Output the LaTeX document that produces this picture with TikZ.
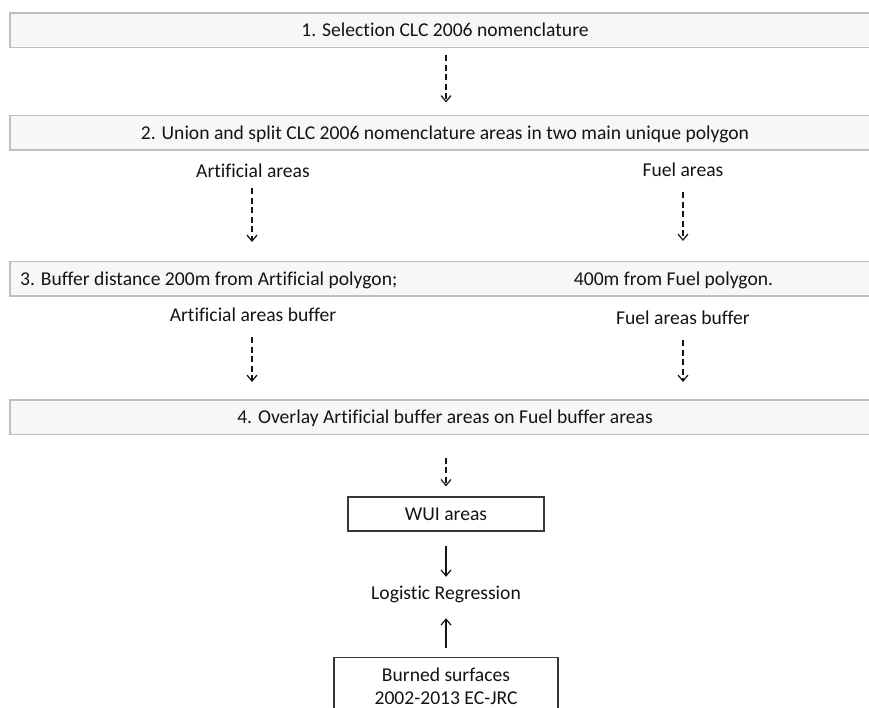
\documentclass[tikz,border=0pt]{standalone}
\usepackage{fontspec}
\setmainfont[RawFeature=-liga]{Carlito}
\usetikzlibrary{arrows.meta}
\definecolor{barfill}{HTML}{F7F7F7}
\definecolor{barline}{HTML}{BFBFBF}
\definecolor{ink}{HTML}{141414}
\tikzset{
  bar/.style={draw=barline, line width=1.5pt, fill=barfill, minimum width=870pt, minimum height=34.5pt, inner sep=0pt, text height=12.6pt, text depth=0pt, font=\fontsize{19.6}{23}\selectfont, text=ink},
  lbl/.style={inner sep=0pt, text height=13pt, text depth=4pt, font=\fontsize{19.6}{23}\selectfont, text=ink},
  box/.style={draw=ink!85, line width=1.2pt, fill=white, inner sep=0pt, font=\fontsize{19.6}{23}\selectfont, text=ink},
  dasharrow/.style={draw=ink, line width=1.2pt, dash pattern=on 6pt off 3.5pt, -{Straight Barb[length=6pt,width=10pt]}},
  solidarrow/.style={draw=ink, line width=1.2pt, -{Straight Barb[length=6pt,width=10pt]}}
}
\begin{document}
\begin{tikzpicture}[x=1pt,y=-1pt]
\useasboundingbox (0,0) rectangle (869,708);
\clip (0,0) rectangle (869,708);
\fill[white] (0,0) rectangle (869,708);
% bars
\node[bar] (b1) at (445,30.5) {1. Selection CLC 2006 nomenclature};
\node[bar] (b2) at (445,133) {2. Union and split CLC 2006 nomenclature areas in two main unique polygon};
\node[bar] (b3) at (445,279) {};
\node[lbl, anchor=base west] (b3l) at (20,285.5) {3. Buffer distance 200m from Artificial polygon;};
\node[lbl, anchor=base] (b3r) at (673.5,285.5) {400m from Fuel polygon.};
\node[bar] (b4) at (445,417) {4. Overlay Artificial buffer areas on Fuel buffer areas};
% labels
\node[lbl, anchor=base] (art) at (253,178) {Artificial areas};
\node[lbl, anchor=base] (fuel) at (683,177) {Fuel areas};
\node[lbl, anchor=base] (artb) at (253,321) {Artificial areas buffer};
\node[lbl, anchor=base] (fuelb) at (683,324) {Fuel areas buffer};
% bottom
\node[box, minimum width=196pt, minimum height=34pt, text height=12.6pt, text depth=0pt] (wui) at (446,514) {WUI areas};
\node[lbl, anchor=base] (lr) at (446,599) {Logistic Regression};
\node[box, anchor=north, minimum width=224pt, align=center, inner ysep=10pt] (burn) at (446,657) {Burned surfaces\\2002-2013 EC-JRC};
% connectors
\draw[dasharrow, shorten <=7pt, shorten >=12.5pt] (b1.south -| 446,0) -- (b2.north -| 446,0);
\draw[dasharrow, shorten <=6pt, shorten >=19pt] (art.south -| 252,0) -- (b3.north -| 252,0);
\draw[dasharrow, shorten <=11pt, shorten >=20pt] (fuel.south -| 683,0) -- (b3.north -| 683,0);
\draw[dasharrow, shorten <=12pt, shorten >=17pt] (artb.south -| 252,0) -- (b4.north -| 252,0);
\draw[dasharrow, shorten <=12pt, shorten >=17pt] (fuelb.south -| 683,0) -- (b4.north -| 683,0);
\draw[dasharrow, shorten <=22.5pt, shorten >=10pt] (b4.south -| wui.north) -- (wui.north);
\draw[solidarrow, shorten <=14pt, shorten >=9pt] (wui.south) -- (lr.north);
\draw[solidarrow, shorten <=9pt, shorten >=15pt] (burn.north) -- (lr.south);
\end{tikzpicture}
\end{document}
